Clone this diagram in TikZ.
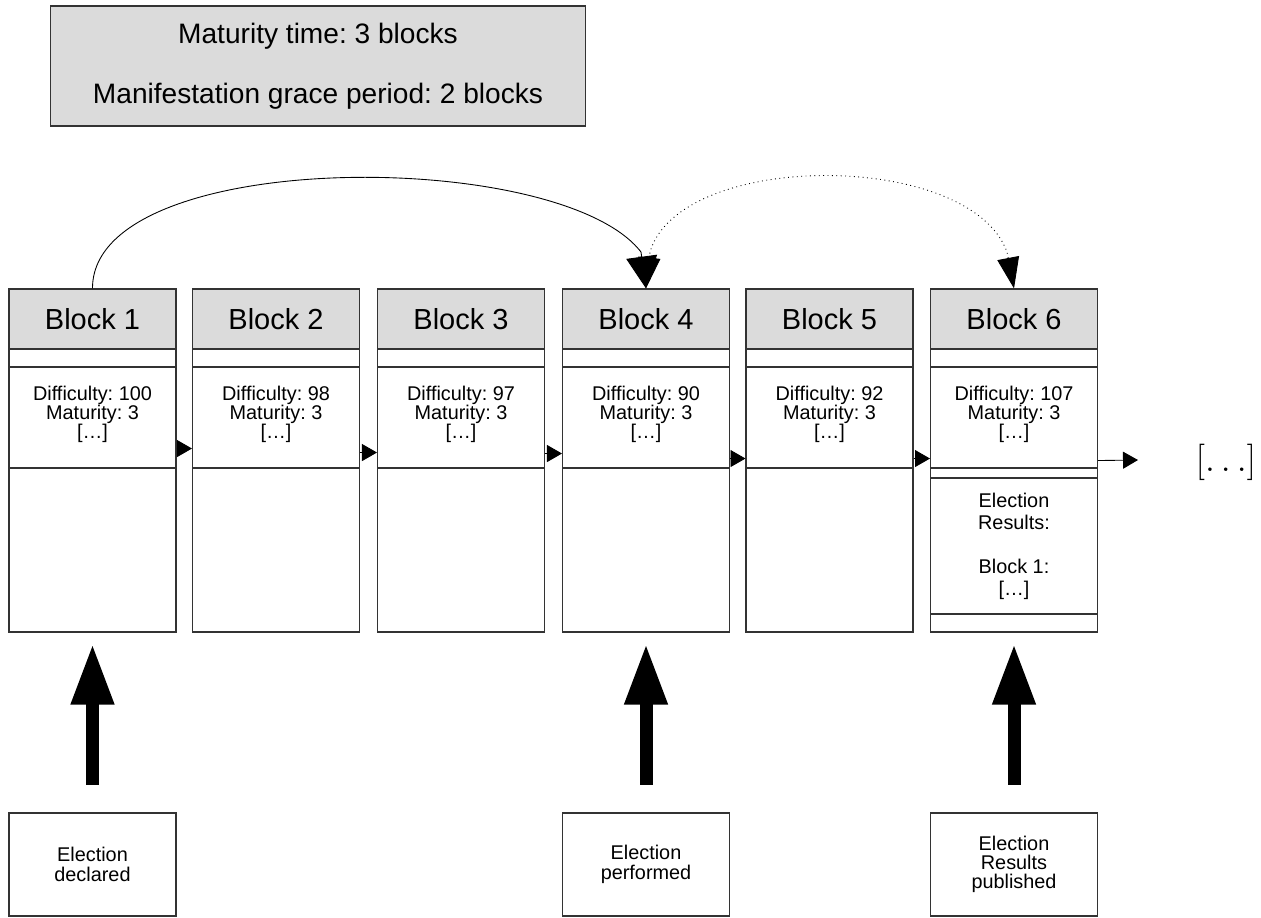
\documentclass[tikz,border=0pt]{standalone}
\usepackage{fontspec}
\setsansfont{Liberation Sans}
\usetikzlibrary{arrows.meta}
\frenchspacing

\begin{document}
\begin{tikzpicture}[x=0.02cm, y=-0.02cm,
    header/.style={rectangle, draw=black!80, line width=0.6pt, fill=black!14, minimum width=3.34cm, minimum height=1.2cm, inner sep=0pt, font=\sffamily\fontsize{16.5}{19}\selectfont},
    band/.style={rectangle, draw=black!80, line width=0.6pt, fill=white, minimum width=3.34cm, minimum height=0.36cm, inner sep=0pt},
    field/.style={band, minimum height=2.02cm},
    body/.style={band, minimum height=3.28cm},
    info/.style={align=center, inner sep=0pt, font=\sffamily\fontsize{11.3}{10.8}\selectfont},
    results/.style={band, minimum height=2.72cm, align=center, font=\sffamily\fontsize{11.3}{12.5}\selectfont},
    event/.style={band, minimum height=2.06cm, align=center, font=\sffamily\fontsize{11.3}{11}\selectfont},
    note/.style={rectangle, draw=black!80, line width=0.6pt, fill=black!14, minimum width=10.72cm, minimum height=2.4cm, align=center, font=\sffamily\fontsize{16}{19}\selectfont},
    chain/.style={-{Triangle[length=0.3cm, width=0.34cm]}, line width=0.5pt},
    link/.style={-{Triangle[length=0.64cm, width=0.62cm]}, line width=0.5pt},
    vote/.style={{Triangle[length=0.62cm, width=0.44cm]}-{Triangle[length=0.62cm, width=0.44cm]}, dotted, line width=0.5pt},
    push/.style={-{Triangle[length=1.22cm, width=0.8cm]}, line width=7.4pt, shorten <=0.56cm, shorten >=0.22cm}
]
\useasboundingbox (0,0) rectangle (1261,917);

% Parameters
\node[note] (params) at (318,66) {Maturity time: 3 blocks\\[15pt]Manifestation grace period: 2 blocks};

% Block 1
\node[header] (h1) at (92.5,319) {Block 1};
\node[band] (s1) at (92.5,358) {};
\node[field] (c1) at (92.5,417.5) {};
\node[info] (d1) at (92.5,414) {Difficulty: 100\\Maturity: 3\\{[…]}};
\node[body] (b1) at (92.5,550) {};

% Block 2
\node[header] (h2) at (276,319) {Block 2};
\node[band] (s2) at (276,358) {};
\node[field] (c2) at (276,417.5) {};
\node[info] (d2) at (276,414) {Difficulty: 98\\Maturity: 3\\{[…]}};
\node[body] (b2) at (276,550) {};

% Block 3
\node[header] (h3) at (461,319) {Block 3};
\node[band] (s3) at (461,358) {};
\node[field] (c3) at (461,417.5) {};
\node[info] (d3) at (461,414) {Difficulty: 97\\Maturity: 3\\{[…]}};
\node[body] (b3) at (461,550) {};

% Block 4
\node[header] (h4) at (646,319) {Block 4};
\node[band] (s4) at (646,358) {};
\node[field] (c4) at (646,417.5) {};
\node[info] (d4) at (646,414) {Difficulty: 90\\Maturity: 3\\{[…]}};
\node[body] (b4) at (646,550) {};

% Block 5
\node[header] (h5) at (829.5,319) {Block 5};
\node[band] (s5) at (829.5,358) {};
\node[field] (c5) at (829.5,417.5) {};
\node[info] (d5) at (829.5,414) {Difficulty: 92\\Maturity: 3\\{[…]}};
\node[body] (b5) at (829.5,550) {};

% Block 6
\node[header] (h6) at (1014,319) {Block 6};
\node[band] (s6) at (1014,358) {};
\node[field] (c6) at (1014,417.5) {};
\node[info] (d6) at (1014,414) {Difficulty: 107\\Maturity: 3\\{[…]}};
\node[band, minimum height=0.2cm] (g6) at (1014,473) {};
\node[results] (r6) at (1014,546) {Election\\Results:\\[12.5pt]Block 1:\\{[…]}};
\node[band] (f6) at (1014,623) {};

% Chain
\draw[chain] ([yshift=0.4cm]c1.south east) -- ([yshift=0.4cm]c2.south west);
\draw[chain] ([yshift=0.32cm]c2.south east) -- ([yshift=0.32cm]c3.south west);
\draw[chain] ([yshift=0.3cm]c3.south east) -- ([yshift=0.3cm]c4.south west);
\draw[chain] ([yshift=0.2cm]c4.south east) -- ([yshift=0.2cm]c5.south west);
\draw[chain] ([yshift=0.2cm]c5.south east) -- ([yshift=0.2cm]c6.south west);
\coordinate (next) at (1138,460);
\draw[chain] ([yshift=0.16cm]c6.south east) -- (next);
\node[font=\fontsize{20}{24}\selectfont, inner sep=0pt] (more) at (1226,462) {$[\ldots]$};

% Maturity and grace period
\draw[link] (h1.north) .. controls (92,147) and (560,147) .. (641,252) -- (h4.north);
\draw[vote] (h4.north) -- (650,252) .. controls (680,150) and (970,150) .. (1007,252) -- (h6.north);

% Events
\node[event] (e1) at (92.5,864.5) {Election\\declared};
\node[event] (e4) at (646,864.5) {Election\\performed};
\node[event] (e6) at (1014,864.5) {Election\\Results\\published};
\draw[push] (e1) -- (b1);
\draw[push] (e4) -- (b4);
\draw[push] (e6) -- (f6);

\end{tikzpicture}
\end{document}
